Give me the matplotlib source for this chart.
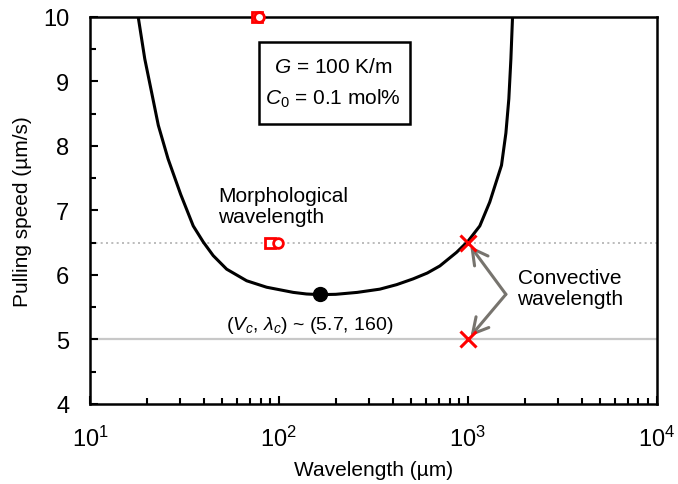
import matplotlib.pyplot as plt
from matplotlib.patches import Rectangle
from matplotlib.ticker import LogLocator, MultipleLocator, NullFormatter

plt.rcParams['font.family'] = ['Liberation Sans', 'DejaVu Sans']
plt.rcParams['mathtext.fontset'] = 'custom'
plt.rcParams['mathtext.rm'] = 'Liberation Sans'
plt.rcParams['mathtext.it'] = 'Liberation Sans:italic'

# neutral stability curve
wavelength = [18.0, 19.5, 21.2, 23.0, 25.9, 30.2, 35.2, 39.8, 44.9, 52.9,
              67.5, 86.1, 119, 140, 165, 200, 260, 342, 420, 514, 610, 711,
              871, 1000, 1157, 1306, 1507, 1590, 1648, 1690, 1724]
speed = [10.0, 9.35, 8.83, 8.32, 7.80, 7.25, 6.76, 6.51, 6.30, 6.09,
         5.91, 5.81, 5.73, 5.705, 5.695, 5.70, 5.73, 5.78, 5.85, 5.94, 6.03, 6.14,
         6.35, 6.52, 6.76, 7.13, 7.70, 8.20, 8.73, 9.35, 10.0]

critical = (165, 5.7)
morph_sq = ([77, 89.6], [10.0, 6.5])
morph_ci = ([78, 99], [10.0, 6.5])
conv_x = ([1000, 1000], [6.5, 5.0])

fig = plt.figure(figsize=(6.78, 4.85), dpi=100)
ax = fig.add_axes([0.1327, 0.165, 0.836, 0.798])

ax.axhline(6.5, color='#b0b0b0', lw=1.2, ls=(0, (1.2, 2)), zorder=1)
ax.axhline(5.0, color='#c8c8c8', lw=1.6, zorder=1)

ax.plot(wavelength, speed, color='black', lw=2.2, zorder=3)
ax.plot(*critical, 'o', color='black', ms=10, zorder=4)

ax.plot(*morph_sq, 's', mfc='white', mec='red', mew=2, ms=7, zorder=5, clip_on=False)
ax.plot(*morph_ci, 'o', mfc='white', mec='red', mew=2, ms=7, zorder=5, clip_on=False)
ax.plot(*conv_x, 'x', color='red', mew=2.2, ms=11, zorder=5)

# arrows for convective wavelength
for ty in conv_x[1]:
    ax.annotate('', xy=(1000, ty), xytext=(1590, 5.7),
                arrowprops=dict(arrowstyle='->,head_length=0.55,head_width=0.3',
                                color='#77746e', lw=2.2, mutation_scale=20,
                                shrinkA=0, shrinkB=3))

ax.text(3470, 5.8, 'Convective\nwavelength', fontsize=15, ha='center', va='center',
        linespacing=1.1)
ax.text(47.5, 7.07, 'Morphological\nwavelength', fontsize=15, ha='left', va='center',
        linespacing=1.1)
ax.text(145, 5.225, r'($V_c$, $\lambda_c$) ~ (5.7, 160)', fontsize=14, ha='center',
        va='center')

# parameter box
ax.add_patch(Rectangle((0.298, 0.7235), 0.266, 0.212, transform=ax.transAxes,
                       fc='white', ec='black', lw=1.8, zorder=2))
ax.text(193, 8.98, '$G$ = 100 K/m\n$C_0$ = 0.1 mol%', fontsize=15, ha='center',
        va='center', linespacing=1.64, zorder=3)

ax.set_xscale('log')
ax.set_xlim(10, 10000)
ax.set_ylim(4, 10)
ax.xaxis.set_major_locator(LogLocator(base=10, numticks=10))
ax.xaxis.set_minor_locator(LogLocator(base=10, subs=range(2, 10), numticks=10))
ax.xaxis.set_minor_formatter(NullFormatter())
ax.yaxis.set_major_locator(MultipleLocator(1))
ax.yaxis.set_minor_locator(MultipleLocator(0.5))
ax.tick_params(which='both', direction='in', labelsize=17, width=1.5)
ax.tick_params(which='major', length=6)
ax.tick_params(which='minor', length=4)
ax.tick_params(axis='x', pad=16)
ax.tick_params(axis='y', pad=15)
for s in ax.spines.values():
    s.set_linewidth(1.8)

ax.set_xlabel('Wavelength (µm)', fontsize=15, labelpad=6)
ax.set_ylabel('Pulling speed (µm/s)', fontsize=15, labelpad=8)

fig.savefig('out.png', dpi=100)
